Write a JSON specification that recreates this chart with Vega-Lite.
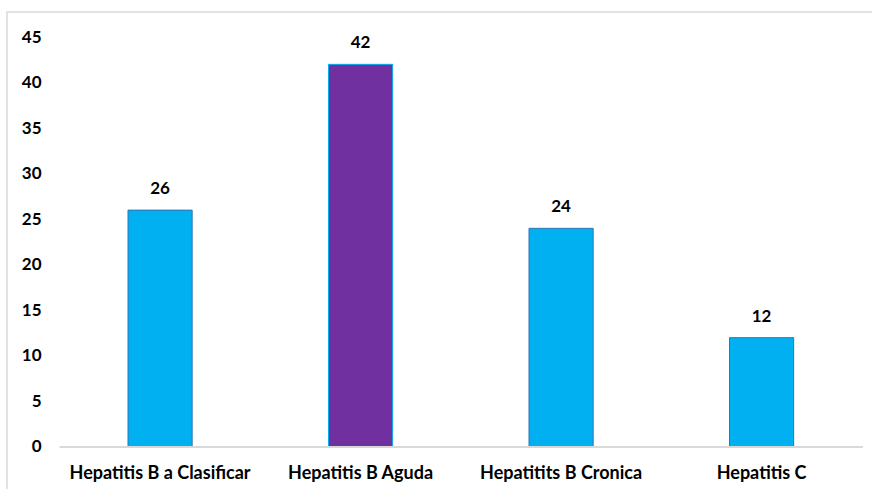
{
  "$schema": "https://vega.github.io/schema/vega-lite/v6.json",
  "width": 866,
  "height": 478,
  "autosize": "none",
  "padding": {"left": 7, "top": 12, "right": 0, "bottom": 0},
  "background": "white",
  "config": {
    "view": {"stroke": "#D9D9D9", "strokeWidth": 1.5},
    "font": "Lato",
    "axis": {"labelFont": "Lato", "labelFontWeight": "bold", "labelColor": "#000000", "grid": false, "ticks": false, "domain": false, "title": null, "labelLimit": 0}
  },
  "data": {
    "values": [
      {"categoria": "Hepatitis B a Clasificar", "casos": 26},
      {"categoria": "Hepatitis B Aguda", "casos": 42},
      {"categoria": "Hepatitits B Cronica", "casos": 24},
      {"categoria": "Hepatitis C", "casos": 12}
    ]
  },
  "encoding": {
    "x": {
      "field": "categoria",
      "type": "nominal",
      "sort": null,
      "scale": {"paddingInner": 0.68, "paddingOuter": 0.4996, "align": 0.604},
      "axis": {"labelAngle": 0, "labelFontSize": 18, "labelPadding": 17, "offset": -43, "labelLimit": 0}
    }
  },
  "layer": [
    {
      "mark": {"type": "bar", "strokeWidth": 1},
      "encoding": {
        "y": {
          "field": "casos",
          "type": "quantitative",
          "scale": {"domain": [-4.72, 47.744], "nice": false, "zero": false},
          "axis": {"values": [0, 5, 10, 15, 20, 25, 30, 35, 40, 45], "labelFontSize": 17, "labelPadding": 2, "offset": -36}
        },
        "y2": {"datum": 0},
        "color": {
          "field": "categoria",
          "type": "nominal",
          "scale": {"domain": ["Hepatitis B a Clasificar", "Hepatitis B Aguda", "Hepatitits B Cronica", "Hepatitis C"], "range": ["#00B0F0", "#7030A0", "#00B0F0", "#00B0F0"]},
          "legend": null
        },
        "stroke": {
          "field": "categoria",
          "type": "nominal",
          "scale": {"domain": ["Hepatitis B a Clasificar", "Hepatitis B Aguda", "Hepatitits B Cronica", "Hepatitis C"], "range": ["#2E75B6", "#00B0F0", "#2E75B6", "#2E75B6"]},
          "legend": null
        }
      }
    },
    {
      "mark": {"type": "text", "baseline": "bottom", "dy": -12, "fontSize": 17, "fontWeight": "bold", "color": "#000000"},
      "encoding": {
        "y": {"field": "casos", "type": "quantitative"},
        "text": {"field": "casos", "type": "quantitative"}
      }
    },
    {
      "mark": {"type": "rule", "color": "#D9D9D9", "strokeWidth": 1.5},
      "encoding": {
        "x": {"datum": "Hepatitis B a Clasificar", "bandPosition": -1.0625},
        "x2": {"datum": "Hepatitis C", "bandPosition": 2.08},
        "y": {"datum": 0}
      }
    }
  ]
}
